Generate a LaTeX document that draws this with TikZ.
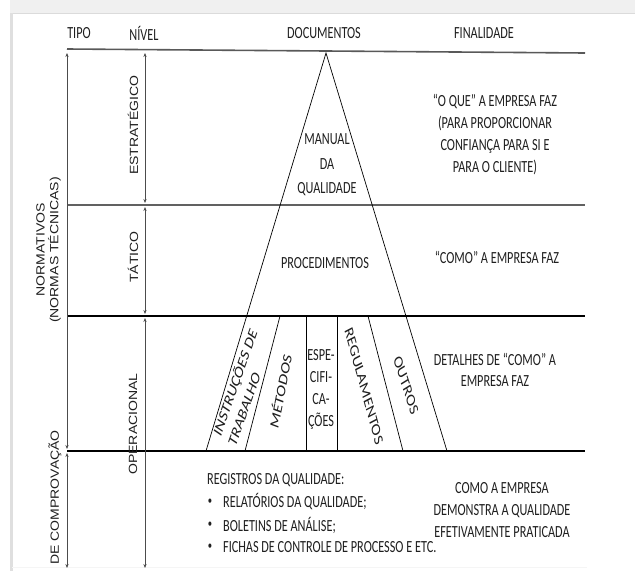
\documentclass[tikz,border=0pt]{standalone}
\usepackage{fontspec}
\setmainfont{Carlito}
\newfontfamily\calfont{Carlito}
\newfontfamily\lablfont[FakeStretch=0.85]{Liberation Sans}
\usetikzlibrary{arrows.meta}
\begin{document}
\begin{tikzpicture}[x=1.38889pt,y=-1pt,xscale=0.72,transform shape,
  hdr/.style={font=\calfont\fontsize{17}{21.7}\selectfont, text=black!88, inner sep=0pt},
  txt/.style={font=\calfont\fontsize{17}{21.7}\selectfont, text=black!88, inner sep=0pt, align=center},
  lft/.style={font=\calfont\fontsize{17}{21.7}\selectfont, text=black!88, inner sep=0pt, anchor=west},
  bul/.style={font=\calfont\fontsize{12}{14}\selectfont, text=black!88, inner sep=0pt},
  rtxt/.style={font=\calfont\fontsize{18}{23}\selectfont, text=black!88, inner sep=0pt},
  side/.style={font=\lablfont\fontsize{16.5}{19}\selectfont, rotate=90, inner sep=0pt, text=black!88, align=center},
  arr/.style={{Stealth[length=4pt,width=3.2pt]}-{Stealth[length=4pt,width=3.2pt]}, line width=0.7pt, draw=black!70},
  thinl/.style={line width=0.7pt, draw=black},
  band/.style={line width=1.2pt, draw=black}]
\useasboundingbox (0,0) rectangle (635,571);
% frame
\fill[gray!12] (10,0) rectangle (635,13);
\draw[gray!28, line width=1pt] (10,13.5) -- (635,13.5);
\draw[gray!25, line width=2.5pt] (11.5,13) -- (11.5,571);
\draw[gray!8, line width=1pt] (12,567) -- (587,567);
% grid coordinates
\coordinate (TL) at (67,49);  \coordinate (TR) at (585,53);
\coordinate (L2l) at (67,205); \coordinate (L2r) at (585,205);
\coordinate (L3l) at (67,316); \coordinate (L3r) at (585,316);
\coordinate (L4l) at (67,451); \coordinate (L4r) at (585,451);
\draw[line width=1.6pt, draw=black!65] (TL) -- (TR);
\draw[line width=1.8pt, draw=black!62] (L2l) -- (L2r);
\draw[band] (L3l) -- (L3r);
\draw[band] (L4l) -- (L4r);
% triangle
\coordinate (apex) at (326,53);
\coordinate (bl) at (206,451);
\coordinate (br) at (447,451);
\draw[thinl] (bl) -- (apex) -- (br);
\coordinate (d1t) at (280,316); \coordinate (d1b) at (245,451);
\coordinate (d2t) at (306,316); \coordinate (d2b) at (306,451);
\coordinate (d3t) at (337,316); \coordinate (d3b) at (337,451);
\coordinate (d4t) at (368,316); \coordinate (d4b) at (403,451);
\draw[thinl] (d1t) -- (d1b);
\draw[thinl] (d2t) -- (d2b);
\draw[thinl] (d3t) -- (d3b);
\draw[thinl] (d4t) -- (d4b);
% arrows
\coordinate (a1) at (67,53);  \coordinate (a2) at (67,449);
\coordinate (a3) at (67,453); \coordinate (a4) at (67,568);
\coordinate (n1) at (145,53); \coordinate (n2) at (145,203);
\coordinate (n3) at (145,207); \coordinate (n4) at (145,314);
\coordinate (n5) at (145,318); \coordinate (n6) at (145,568);
\draw[arr] (a1) -- (a2);
\draw[arr] (a3) -- (a4);
\draw[arr] (n1) -- (n2);
\draw[arr] (n3) -- (n4);
\draw[arr] (n5) -- (n6);
% headers
\node[hdr] (tipo) at (79,33) {TIPO};
\node[hdr] (nivel) at (144,33) {NÍVEL};
\node[hdr] (docs) at (324,33) {DOCUMENTOS};
\node[hdr] (fin) at (484,33) {FINALIDADE};
% side labels
\node[side] (estr) at (133,125) {ESTRATÉGICO};
\node[side] (tat) at (133,257) {TÁTICO};
\node[side] (oper) at (133,424) {OPERACIONAL};
\node[side] (norm) at (48.5,250) {NORMATIVOS\\(NORMAS TÉCNICAS)};
\begin{scope}
\clip (0,0) rectangle (635,571);
\node[side, anchor=east] (comp) at (55,430) {DE COMPROVAÇÃO};
\end{scope}
% documents
\node[txt, font=\calfont\fontsize{17}{24.5}\selectfont] (manual) at (327,165) {MANUAL\\DA\\QUALIDADE};
\node[txt] (proc) at (325,263) {PROCEDIMENTOS};
\node[rtxt, rotate=64, align=left] (instr) at (242,387) {INSTRUÇÕES DE\\TRABALHO};
\node[rtxt, rotate=75] (met) at (280,391) {MÉTODOS};
\node[txt, font=\calfont\fontsize{17}{22}\selectfont] (espe) at (321,389) {ESPE-\\CIFI-\\CA-\\ÇÕES};
\node[rtxt, rotate=-69.4] (reg) at (364,386) {REGULAMENTOS};
\node[rtxt, rotate=-66] (out) at (406,385) {OUTROS};
% finalidade
\node[txt] (oque) at (495,134.5) {“O QUE” A EMPRESA FAZ\\(PARA PROPORCIONAR\\CONFIANÇA PARA SI E\\PARA O CLIENTE)};
\node[txt] (como) at (497,257) {“COMO” A EMPRESA FAZ};
\node[txt] (det) at (495,370) {DETALHES DE “COMO” A\\EMPRESA FAZ};
\node[txt] (demo) at (502,510) {COMO A EMPRESA\\DEMONSTRA A QUALIDADE\\EFETIVAMENTE PRATICADA};
% registros
\node[lft] (reg0) at (207,480) {REGISTROS DA QUALIDADE:};
\node[bul] (b1) at (210,502) {•};
\node[lft] (r1) at (223,502) {RELATÓRIOS DA QUALIDADE;};
\node[bul] (b2) at (210,525) {•};
\node[lft] (r2) at (223,525) {BOLETINS DE ANÁLISE;};
\node[bul] (b3) at (210,547) {•};
\node[lft] (r3) at (223,547) {FICHAS DE CONTROLE DE PROCESSO E ETC.};
\end{tikzpicture}
\end{document}
